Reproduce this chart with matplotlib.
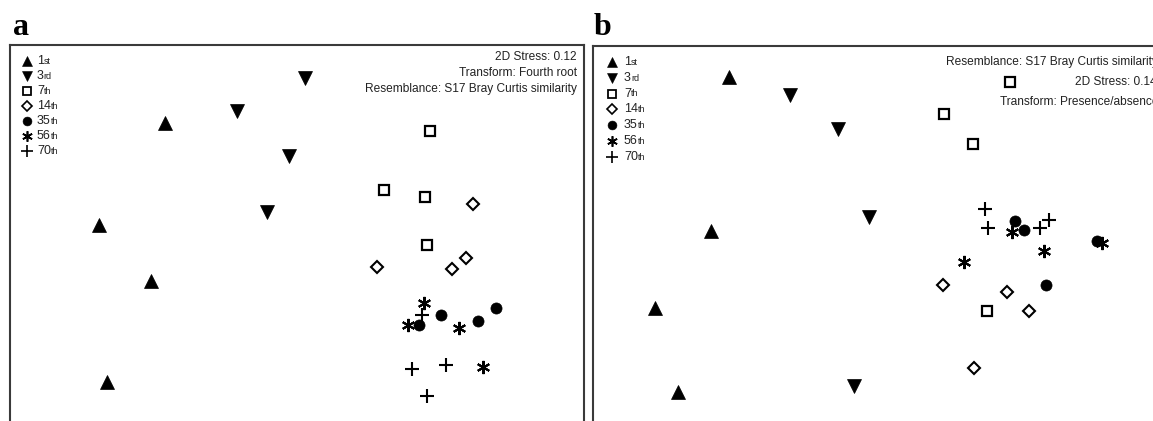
import matplotlib
matplotlib.use('Agg')
import matplotlib.pyplot as plt

# nMDS ordinations of the sampling days (arbitrary MDS units)
days = ['1st', '3rd', '7th', '14th', '35th', '56th', '70th']

# panel a: fourth-root transform
a_mds1 = [
    [-1.32, -1.98, -1.46, -1.90],
    [0.08, -0.60, -0.08, -0.30],
    [1.33, 0.87, 1.28, 1.30],
    [1.76, 0.80, 1.55, 1.69],
    [1.22, 1.44, 1.81, 1.99],
    [1.27, 1.11, 1.62, 1.86],
    [1.25, 1.15, 1.49, 1.30],
]
a_mds2 = [
    [1.10, 0.08, -0.48, -1.49],
    [1.55, 1.22, 0.77, 0.21],
    [1.02, 0.43, 0.36, -0.12],
    [0.29, -0.34, -0.36, -0.25],
    [-0.92, -0.82, -0.88, -0.75],
    [-0.70, -0.92, -0.95, -1.34],
    [-0.82, -1.36, -1.32, -1.63],
]

# panel b: presence/absence transform
b_mds1 = [
    [-1.41, -1.59, -2.15, -1.92],
    [-0.80, -0.32, -0.01, -0.16],
    [1.40, 0.74, 1.03, 1.17],
    [0.73, 1.37, 1.59, 1.04],
    [1.45, 1.54, 2.27, 1.76],
    [1.42, 1.74, 0.94, 2.32],
    [1.15, 1.18, 1.70, 1.79],
]
b_mds2 = [
    [1.56, 0.02, -0.75, -1.59],
    [1.38, 1.04, 0.16, -1.53],
    [1.51, 1.19, 0.89, -0.78],
    [-0.52, -0.59, -0.78, -1.35],
    [0.12, 0.03, -0.08, -0.52],
    [0.01, -0.18, -0.29, -0.10],
    [0.24, 0.05, 0.05, 0.13],
]

a_notes = ['2D Stress: 0.12', 'Transform: Fourth root',
           'Resemblance: S17 Bray Curtis similarity']
b_notes = ['Resemblance: S17 Bray Curtis similarity', '2D Stress: 0.14',
           'Transform: Presence/absence']

# marker style for each day
styles = {
    '1st': dict(marker='^', ms=9.5, mfc='black', mew=0.5),
    '3rd': dict(marker='v', ms=9.5, mfc='black', mew=0.5),
    '7th': dict(marker='s', ms=7, mfc='white', mew=1.6),
    '14th': dict(marker='D', ms=6.2, mfc='white', mew=1.5),
    '35th': dict(marker='o', ms=8, mfc='black', mew=0.5),
    '56th': dict(marker=(6, 2, 0), ms=9.5, mfc='black', mew=1.5),
    '70th': dict(marker='+', ms=10, mfc='black', mew=1.5),
}

W, H = 1153, 421
fig = plt.figure(figsize=(W / 100, H / 100), dpi=100)
plt.rcParams['font.family'] = ['Liberation Sans', 'DejaVu Sans']


def make_axes(left_px, top_px, right_px, x0_px, y0_px):
    # axes run off the bottom (and right for b), like the cropped figure
    bottom_px = 440
    ax = fig.add_axes([left_px / W, (H - bottom_px) / H,
                       (right_px - left_px) / W, (bottom_px - top_px) / H])
    ax.set_xlim((left_px - x0_px) / 100, (right_px - x0_px) / 100)
    ax.set_ylim((y0_px - bottom_px) / 100, (y0_px - top_px) / 100)
    ax.set_xticks([])
    ax.set_yticks([])
    for sp in ax.spines.values():
        sp.set_color('#3a3a3a')
        sp.set_linewidth(1.5)
    return ax


def draw_points(ax, xs, ys):
    for day, x, y in zip(days, xs, ys):
        st = styles[day]
        ax.plot(x, y, linestyle='none', marker=st['marker'], ms=st['ms'],
                mfc=st['mfc'], mec='black', mew=st['mew'], clip_on=False)


def draw_key(ax, mx, tx, y0, step):
    # hand-made key: marker, number and small ordinal suffix
    for i, day in enumerate(days):
        y = y0 - i * step
        st = styles[day]
        ax.plot(mx, y, linestyle='none', marker=st['marker'], ms=st['ms'] * 0.8,
                mfc=st['mfc'], mec='black', mew=st['mew'] * 0.8)
        num = day[:-2]
        suf = day[-2:]
        t = ax.text(tx, y, num, fontsize=9, va='center', ha='left',
                    color='#222222')
        ax.annotate(suf, xy=(1, 0.1), xycoords=t, fontsize=6.5, va='bottom',
                    ha='left', color='#222222')


# panel a
ax_a = make_axes(10, 45, 584, 297, 233)
draw_points(ax_a, a_mds1, a_mds2)
draw_key(ax_a, -2.70, -2.60, 1.72, 0.15)
for note, y in zip(a_notes, [1.76, 1.60, 1.44]):
    ax_a.text(2.80, y, note, fontsize=8.6, ha='right', va='center',
              color='#222222')

# panel b: notes run past the right edge of the page
ax_b = make_axes(593, 46, 1180, 870, 233)
draw_points(ax_b, b_mds1, b_mds2)
draw_key(ax_b, -2.58, -2.46, 1.71, 0.158)
for note, x, y in zip(b_notes, [0.76, 2.05, 1.30], [1.71, 1.51, 1.31]):
    ax_b.text(x, y, note, fontsize=8.6, ha='left', va='center',
              color='#222222')

# panel letters
for letter, x in [('a', 13), ('b', 594)]:
    fig.text(x / W, 1 - 35 / H, letter, fontsize=23, fontweight='bold',
             family='Liberation Serif', va='baseline', ha='left')

fig.savefig('out.png', dpi=100)
